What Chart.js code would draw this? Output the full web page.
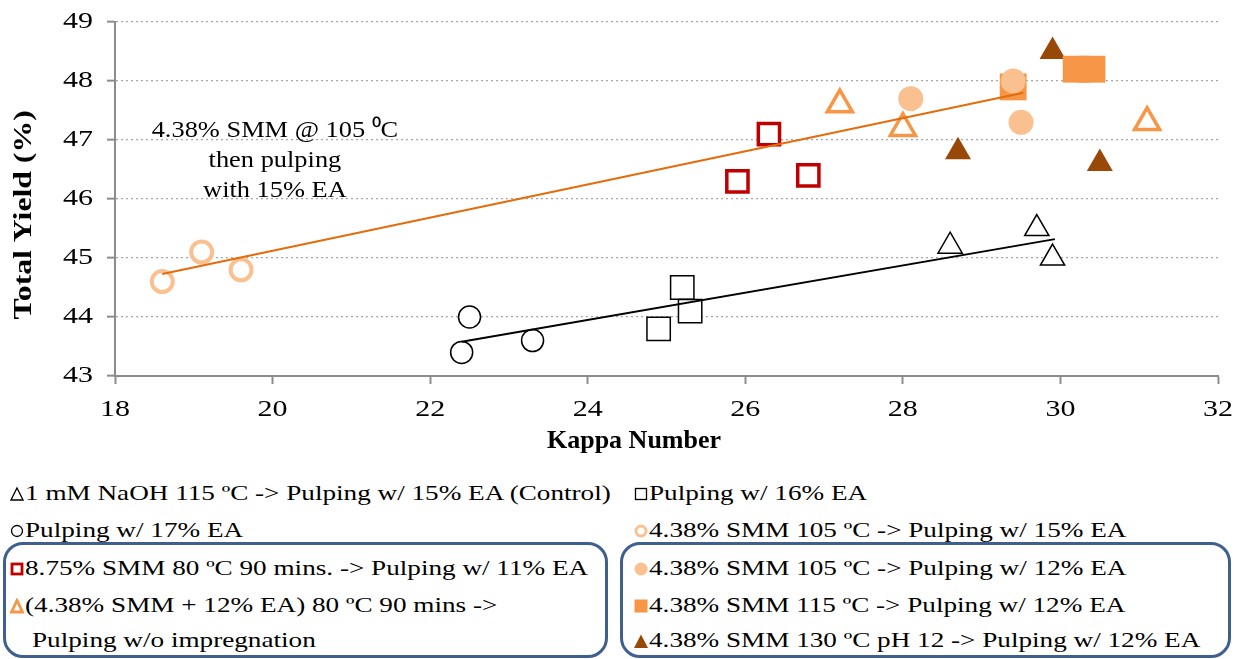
<!DOCTYPE html>
<html>
<head>
<meta charset="utf-8">
<script src="https://cdn.jsdelivr.net/npm/chart.js@4.4.1/dist/chart.umd.min.js"></script>
<style>
	body { margin: 0; background: #fff; font-family: "Liberation Serif", "Times New Roman", serif; }
	#wrap { position: relative; width: 1237px; height: 659px; overflow: hidden; }
	#chartBox { position: absolute; left: 0; top: 0; width: 1237px; height: 460px; }
	.row { position: absolute; font-size: 22px; line-height: 26px; white-space: nowrap; color: #000; }
	.row svg { vertical-align: -2px; margin-right: 1px; }
	.row .txt { display: inline-block; transform: scaleX(1.235); transform-origin: 0 50%; }
	.box { position: absolute; border: 3px solid #3f5f8e; border-radius: 20px; box-sizing: border-box; }
</style>
</head>
<body>
<div id="wrap">
	<div id="chartBox"><canvas id="yieldChart" width="1237" height="460"></canvas></div>
	<div class="box" style="left:3px; top:542px; width:605px; height:116px;"></div>
	<div class="box" style="left:620px; top:542px; width:611px; height:116px;"></div>
	<div id="legend"></div>
</div>
<script>
// Kappa number / total yield for each treatment
var controlKappa = [28.6, 29.7, 29.9];
var controlYield = [45.2, 45.5, 45.0];

var ea16Kappa = [24.9, 25.2, 25.3];
var ea16Yield = [43.8, 44.5, 44.1];

var ea17Kappa = [22.4, 22.5, 23.3];
var ea17Yield = [43.4, 44.0, 43.6];

var smm105ea15Kappa = [18.6, 19.1, 19.6];
var smm105ea15Yield = [44.6, 45.1, 44.8];

var smm875Kappa = [25.9, 26.3, 26.8];
var smm875Yield = [46.3, 47.1, 46.4];

var smmEa80Kappa = [27.2, 28.0, 31.1];
var smmEa80Yield = [47.6, 47.2, 47.3];

var smm105ea12Kappa = [28.1, 29.4, 29.5];
var smm105ea12Yield = [47.7, 48.0, 47.3];

var smm115Kappa = [29.4, 30.2, 30.4];
var smm115Yield = [47.9, 48.2, 48.2];

var smm130Kappa = [29.9, 28.7, 30.5];
var smm130Yield = [48.5, 46.8, 46.6];

// trend lines (end points)
var blackTrendKappa = [22.4, 29.93];
var blackTrendYield = [43.58, 45.32];
var orangeTrendKappa = [18.6, 29.53];
var orangeTrendYield = [44.73, 47.8];

var xTicks = [18, 20, 22, 24, 26, 28, 30, 32];
var yTicks = [43, 44, 45, 46, 47, 48, 49];

var xTitle = 'Kappa Number';
var yTitle = 'Total Yield (%)';
var noteLines = ['4.38% SMM @ 105 \u2070C', 'then pulping', 'with 15% EA'];

var legendLabels = [
	'1 mM NaOH 115 \u00baC -> Pulping w/ 15% EA (Control)',
	'Pulping w/ 16% EA',
	'Pulping w/ 17% EA',
	'4.38% SMM 105 \u00baC -> Pulping w/ 15% EA',
	'8.75% SMM 80 \u00baC 90 mins. -> Pulping w/ 11% EA',
	'4.38% SMM 105 \u00baC -> Pulping w/ 12% EA',
	'(4.38% SMM + 12% EA) 80 \u00baC 90 mins ->',
	'4.38% SMM 115 \u00baC -> Pulping w/ 12% EA',
	'Pulping w/o impregnation',
	'4.38% SMM 130 \u00baC pH 12 -> Pulping w/ 12% EA'
];

var serif = '"Liberation Serif", "Times New Roman", serif';

function pts(xs, ys){
	var out = [];
	for(var i = 0; i < xs.length; i++){
		out.push({x: xs[i], y: ys[i]});
	}
	return out;
}

function scatterSet(xs, ys, style, radius, fill, stroke, bw){
	return {
		type: 'scatter',
		data: pts(xs, ys),
		pointStyle: style,
		pointRadius: radius,
		backgroundColor: fill,
		borderColor: stroke,
		borderWidth: bw,
		order: 1
	};
}

function lineSet(xs, ys, color){
	return {
		type: 'line',
		data: pts(xs, ys),
		borderColor: color,
		borderWidth: 2,
		pointRadius: 0,
		fill: false,
		order: 0
	};
}

// the source figure has wide lettering, so text is stretched sideways a bit
function stretchFor(t){
	t = String(t).trim();
	if(t.indexOf('Kappa') == 0) return 1;
	if(noteLines.indexOf(t) >= 0) return 1.1;
	if(/^[0-9]+$/.test(t)) return 1.25;
	return 1.22;
}

var ctx = document.getElementById('yieldChart').getContext('2d');
var plainFill = ctx.fillText;
ctx.fillText = function(t, x, y, mw){
	var k = stretchFor(t);
	this.save();
	this.translate(x, y);
	this.scale(k, 1);
	plainFill.call(this, t, 0, 0);
	this.restore();
};

var notePlugin = {
	id: 'note',
	afterDatasetsDraw: function(chart){
		var c = chart.ctx;
		var cx = chart.scales.x.getPixelForValue(20.03);
		var cy = chart.scales.y.getPixelForValue(47.15);
		c.save();
		c.fillStyle = '#000';
		c.font = '24px ' + serif;
		c.textAlign = 'center';
		c.textBaseline = 'middle';
		for(var i = 0; i < noteLines.length; i++){
			c.fillText(noteLines[i], cx, cy + i * 30);
		}
		c.restore();
	}
};

var nb = '\u00a0';

new Chart(ctx, {
	data: {
		datasets: [
			lineSet(blackTrendKappa, blackTrendYield, '#000000'),
			lineSet(orangeTrendKappa, orangeTrendYield, '#e46c0a'),
			scatterSet(controlKappa, controlYield, 'triangle', 14, '#ffffff', '#000000', 1.5),
			scatterSet(ea16Kappa, ea16Yield, 'rect', 16.5, '#ffffff', '#000000', 1.5),
			scatterSet(ea17Kappa, ea17Yield, 'circle', 11, '#ffffff', '#000000', 1.5),
			scatterSet(smm105ea15Kappa, smm105ea15Yield, 'circle', 10.5, '#ffffff', '#fac090', 4),
			scatterSet(smm875Kappa, smm875Yield, 'rect', 15, '#ffffff', '#c00000', 3.5),
			scatterSet(smmEa80Kappa, smmEa80Yield, 'triangle', 14.5, '#ffffff', '#f79646', 3.5),
			scatterSet(smm105ea12Kappa, smm105ea12Yield, 'circle', 12.5, '#fac090', '#fac090', 0),
			scatterSet(smm115Kappa, smm115Yield, 'rect', 19, '#f79646', '#f79646', 0),
			scatterSet(smm130Kappa, smm130Yield, 'triangle', 15, '#984807', '#984807', 0)
		]
	},
	options: {
		responsive: false,
		animation: false,
		events: [],
		layout: { padding: { left: 0, right: 13, top: 22, bottom: 0 } },
		plugins: { legend: { display: false }, tooltip: { enabled: false } },
		scales: {
			x: {
				type: 'linear',
				min: 18, max: 32,
				afterFit: function(s){ s.height = 84; s.paddingLeft = 0; s.paddingRight = 0; },
				afterBuildTicks: function(s){ s.ticks = xTicks.map(function(v){ return {value: v}; }); },
				border: { color: '#8c8c8c', width: 2 },
				grid: { drawOnChartArea: false, drawTicks: true, tickLength: 8, tickColor: '#8c8c8c', tickWidth: 2 },
				ticks: { color: '#000', font: { family: serif, size: 24 }, padding: 11, maxRotation: 0 },
				title: { display: true, text: xTitle + nb.repeat(10), color: '#000', font: { family: serif, size: 26, weight: 'bold' }, padding: { top: 2, bottom: 3 } }
			},
			y: {
				type: 'linear',
				min: 43, max: 49,
				afterFit: function(s){ s.width = 115; s.paddingTop = 0; s.paddingBottom = 0; },
				afterBuildTicks: function(s){ s.ticks = yTicks.map(function(v){ return {value: v}; }); },
				border: { color: '#8c8c8c', width: 2, dash: [2, 3] },
				grid: { color: '#a6a6a6', lineWidth: 1.3, tickLength: 8, tickColor: '#8c8c8c', tickWidth: 2, tickBorderDash: [] },
				ticks: { color: '#000', font: { family: serif, size: 24 }, padding: 14 },
				title: { display: true, text: yTitle + nb.repeat(4), color: '#000', font: { family: serif, size: 26, weight: 'bold' }, padding: { top: 9, bottom: 0 } }
			}
		}
	},
	plugins: [notePlugin]
});

// legend built as html
function marker(kind){
	var s = '<svg width="14" height="16" viewBox="0 0 14 16">';
	if(kind == 'triBlack') s += '<polygon points="7,2 13,14 1,14" fill="none" stroke="#000" stroke-width="1.3"/>';
	if(kind == 'sqBlack') s += '<rect x="1.5" y="2.5" width="11" height="11" fill="none" stroke="#000" stroke-width="1.3"/>';
	if(kind == 'cirBlack') s += '<circle cx="7" cy="8" r="5.5" fill="none" stroke="#000" stroke-width="1.3"/>';
	if(kind == 'cirOrangeOpen') s += '<circle cx="7" cy="8" r="5" fill="none" stroke="#fac090" stroke-width="3"/>';
	if(kind == 'sqRed') s += '<rect x="2" y="3" width="10" height="10" fill="none" stroke="#c00000" stroke-width="2.8"/>';
	if(kind == 'cirFill') s += '<circle cx="7" cy="8" r="6.5" fill="#fac090"/>';
	if(kind == 'triOrange') s += '<polygon points="7,2.5 12.5,14 1.5,14" fill="none" stroke="#f79646" stroke-width="2.8"/>';
	if(kind == 'sqOrange') s += '<rect x="0.5" y="1.5" width="13" height="13" fill="#f79646"/>';
	if(kind == 'triBrown') s += '<polygon points="7,1.5 14,15 0,15" fill="#984807"/>';
	return s + '</svg>';
}

var legendRows = [
	{x: 10, y: 480, m: 'triBlack', t: 0},
	{x: 634, y: 480, m: 'sqBlack', t: 1},
	{x: 10, y: 517, m: 'cirBlack', t: 2},
	{x: 634, y: 517, m: 'cirOrangeOpen', t: 3},
	{x: 10, y: 555, m: 'sqRed', t: 4},
	{x: 634, y: 555, m: 'cirFill', t: 5},
	{x: 10, y: 592, m: 'triOrange', t: 6},
	{x: 634, y: 592, m: 'sqOrange', t: 7},
	{x: 32, y: 627, m: null, t: 8},
	{x: 634, y: 627, m: 'triBrown', t: 9}
];

var legendHtml = '';
for(var i = 0; i < legendRows.length; i++){
	var r = legendRows[i];
	legendHtml += '<div class="row" style="left:' + r.x + 'px; top:' + r.y + 'px;">' +
		(r.m ? marker(r.m) : '') + '<span class="txt">' + legendLabels[r.t] + '</span></div>';
}
document.getElementById('legend').innerHTML = legendHtml;
</script>
</body>
</html>
